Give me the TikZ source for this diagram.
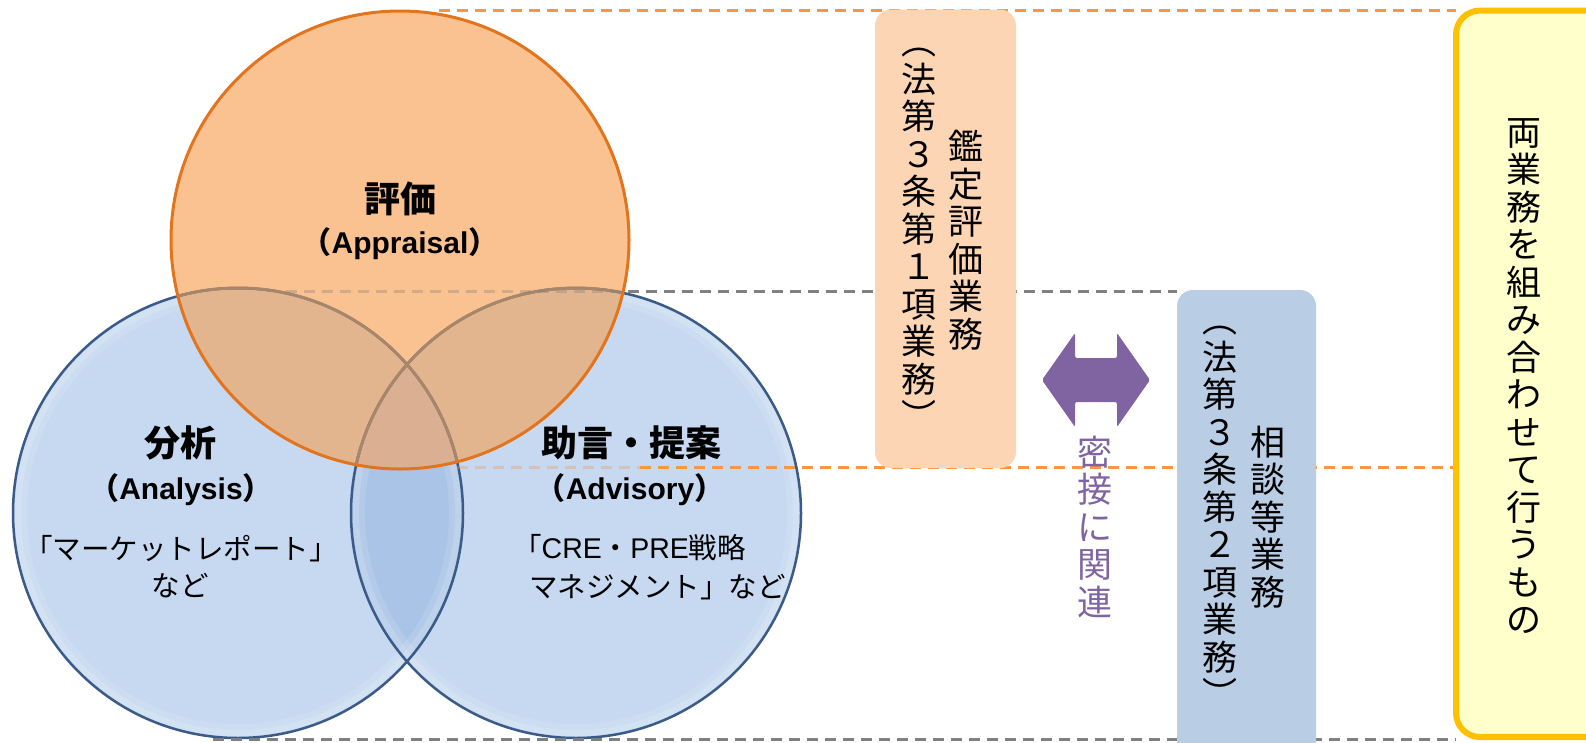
\documentclass[tikz,border=0pt]{standalone}
\usepackage{fontspec}
\newfontfamily\jp{Noto Sans CJK JP}
\newfontfamily\lat{Liberation Sans}
\definecolor{orfill}{HTML}{FBC291}
\definecolor{ordraw}{HTML}{E3741E}
\definecolor{blfill}{HTML}{C6D9F1}
\definecolor{bldraw}{HTML}{3A5A88}
\definecolor{bllens}{HTML}{A9C4E7}
\definecolor{oblens}{HTML}{E3B58F}
\definecolor{trilens}{HTML}{DBB092}
\definecolor{inarc}{HTML}{A8866A}
\definecolor{peach}{HTML}{FCD5B4}
\definecolor{bluebox}{HTML}{B9CDE5}
\definecolor{yelfill}{HTML}{FFFFCC}
\definecolor{yeldraw}{HTML}{FFC000}
\definecolor{purp}{HTML}{8064A2}
\definecolor{dashor}{HTML}{F79646}
\definecolor{dashgr}{HTML}{808080}
\begin{document}
\begin{tikzpicture}[x=1pt,y=-1pt,
  odash/.style={draw=dashor, line width=3pt, dash pattern=on 11pt off 7pt},
  gdash/.style={draw=dashgr, line width=3pt, dash pattern=on 11pt off 7pt},
  faint/.style={opacity=0.35},
  panel/.style={inner sep=0pt, outer sep=0pt, rectangle},
  vt/.style={font=\jp\fontsize{35}{37.5}\selectfont, align=center, inner sep=0pt},
  head/.style={font=\jp\bfseries\fontsize{36}{40}\selectfont, inner sep=0pt},
  latin/.style={font=\jp\bfseries\fontsize{30}{34}\selectfont, inner sep=0pt},
  body/.style={font=\jp\fontsize{28.5}{32}\selectfont, inner sep=0pt},
  glowa/.style={white, line width=14pt, opacity=0.12},
  glowb/.style={white, line width=6pt, opacity=0.15},
]
\useasboundingbox (0,0) rectangle (1586,742);
\clip (0,0) rectangle (1586,742);

% circle centres
\coordinate (cO) at (400,240);
\coordinate (cL) at (238,513);
\coordinate (cR) at (576,513);

% fills
\fill[blfill] (cL) circle[radius=225pt];
\fill[blfill] (cR) circle[radius=225pt];
\begin{scope}
  \clip (cL) circle[radius=225pt];
  \fill[bllens] (cR) circle[radius=225pt];
\end{scope}
% soft inner glow of the blue discs (the orange disc covers it where they overlap)
\draw[glowa] (cL) circle[radius=218pt];
\draw[glowa] (cR) circle[radius=218pt];
\draw[glowb] (cL) circle[radius=220pt];
\draw[glowb] (cR) circle[radius=220pt];
\fill[orfill] (cO) circle[radius=229pt];
\begin{scope}
  \clip (cO) circle[radius=229pt];
  \fill[oblens] (cL) circle[radius=225pt];
  \fill[oblens] (cR) circle[radius=225pt];
  \clip (cL) circle[radius=225pt];
  \fill[trilens] (cR) circle[radius=225pt];
\end{scope}
% borders
\draw[bldraw, line width=2.5pt] (cL) circle[radius=225pt];
\draw[bldraw, line width=2.5pt] (cR) circle[radius=225pt];
\begin{scope}
  \clip (cO) circle[radius=229pt];
  \draw[inarc, line width=3pt] (cL) circle[radius=225pt];
  \draw[inarc, line width=3pt] (cR) circle[radius=225pt];
\end{scope}
\draw[ordraw, line width=3pt] (cO) circle[radius=229pt];

% dashed guide lines
\coordinate (t1) at (439,10);   \coordinate (t2) at (1456,10);
\coordinate (g1) at (286,291);  \coordinate (g2) at (628,291);  \coordinate (g3) at (1177,291);
\coordinate (o1) at (457,467);  \coordinate (o2) at (640,467);  \coordinate (o3) at (1456,467);
\coordinate (b1) at (213,739);  \coordinate (b2) at (1456,739);
\draw[odash] (t1) -- (t2);
\draw[gdash, faint] (g1) -- (g2);
\draw[gdash] (g2) -- (g3);
\draw[odash, faint] (o1) -- (o2);
\draw[odash] (o2) -- (o3);
\draw[gdash] (b1) -- (b2);

% boxes
\node[panel, fill=peach, rounded corners=16pt, minimum width=141pt, minimum height=458.5pt] (pbox) at (945.5,238.75) {};
\node[panel, fill=bluebox, rounded corners=16pt, minimum width=139pt, minimum height=480pt] (bbox) at (1246.5,530) {};
\node[panel, fill=yelfill, draw=yeldraw, line width=6pt, rounded corners=24pt, minimum width=184pt, minimum height=726.5pt] (ybox) at (1548,373.75) {};

% double arrow
\fill[purp, rounded corners=2pt] (1042,380) -- (1075,333) -- (1075,358) -- (1117,358) -- (1117,333)
  -- (1150,380) -- (1117,427) -- (1117,402) -- (1075,402) -- (1075,427) -- cycle;

% vertical texts
\node[vt] (p1) at (919,239) {︵\\法\\第\\３\\条\\第\\１\\項\\業\\務\\︶};
\node[vt] (p2) at (966,240) {鑑\\定\\評\\価\\業\\務};
\node[vt] (q1) at (1220,517) {︵\\法\\第\\３\\条\\第\\２\\項\\業\\務\\︶};
\node[vt] (q2) at (1268,517) {相\\談\\等\\業\\務};
\node[vt, text=purp] (rel) at (1095,527) {密\\接\\に\\関\\連};
\node[vt] (yt) at (1524,376) {両\\業\\務\\を\\組\\み\\合\\わ\\せ\\て\\行\\う\\も\\の};

% circle texts
\node[head] (h1) at (400,199) {評価};
\node[latin] (h1e) at (400,244) {（{\lat Appraisal}）};
\node[head] (h2) at (180,443) {分析};
\node[latin] (h2e) at (181,490) {（{\lat Analysis}）};
\node[body] (h2a) at (181,549) {「マーケットレポート」};
\node[body] (h2b) at (180,586) {など};
\node[head] (h3) at (631,443) {助言・提案};
\node[latin] (h3e) at (630,490) {（{\lat Advisory}）};
\node[body, anchor=west] (h3a) at (513,548) {「{\lat CRE}・{\lat PRE}戦略};
\node[body, anchor=west] (h3b) at (529,587) {マネジメント」など};
\end{tikzpicture}
\end{document}
